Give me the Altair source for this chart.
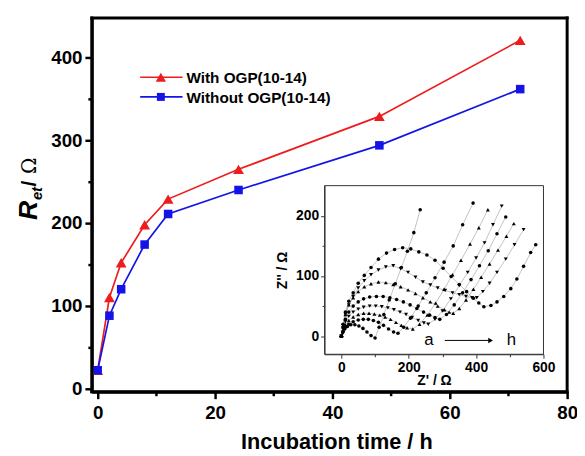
import altair as alt
import pandas as pd

# ---------------- main data ----------------
hours = [0, 2, 4, 8, 12, 24, 48, 72]
ret_with = [22, 110, 152, 198, 229, 265, 329, 421]
ret_without = [22, 88, 120, 174, 211, 240, 294, 362]
legend_labels = ["With OGP(10-14)", "Without OGP(10-14)"]

# ---------------- inset (Nyquist) data ----------------
a_x = [0, 4, 10, 18, 28, 40, 52, 64, 76, 88, 100, 112, 126, 142, 160, 178, 196, 215, 234]
a_y = [0, 6, 12, 16, 19, 19, 17, 13, 7, 1, -3, 15, 36, 60, 87, 114, 141, 172, 210]

b_x = [0, 5, 12, 22, 35, 50, 65, 80, 95, 110, 125, 140, 155, 168, 185, 205, 228, 252, 278, 305, 332, 360, 391]
b_y = [0, 8, 15, 20, 24, 27, 28, 28, 26, 23, 18, 12, 7, 5, 15, 30, 50, 72, 97, 123, 150, 185, 221]

c_x = [0, 5, 12, 22, 35, 50, 66, 82, 98, 114, 130, 146, 162, 178, 195, 212, 232, 255, 280, 305, 330, 355, 382, 408, 435]
c_y = [0, 10, 19, 26, 32, 36, 38, 38, 37, 35, 32, 28, 23, 18, 14, 12, 20, 35, 55, 78, 102, 126, 153, 180, 210]

d_x = [0, 5, 12, 22, 35, 50, 66, 84, 102, 120, 138, 156, 174, 192, 210, 228, 245, 258, 278, 300, 325, 350, 375, 400, 425, 450, 476]
d_y = [0, 12, 24, 33, 40, 45, 48, 50, 50, 49, 47, 44, 40, 36, 31, 26, 22, 20, 28, 42, 62, 84, 106, 130, 155, 185, 216]

e_x = [0, 5, 12, 22, 35, 50, 66, 84, 104, 124, 144, 164, 184, 204, 224, 244, 262, 278, 292, 312, 335, 360, 385, 410, 436, 462, 488]
e_y = [0, 14, 28, 40, 50, 57, 62, 65, 66, 66, 64, 61, 57, 52, 46, 40, 35, 31, 28, 36, 52, 72, 94, 117, 142, 170, 198]

f_x = [0, 5, 12, 22, 35, 50, 68, 88, 110, 132, 154, 176, 198, 220, 242, 264, 286, 306, 320, 332, 350, 370, 392, 415, 440, 465, 490, 512]
f_y = [0, 18, 36, 52, 64, 74, 82, 87, 90, 89, 86, 82, 77, 71, 64, 57, 50, 44, 40, 38, 46, 60, 78, 98, 120, 143, 166, 187]

g_x = [0, 5, 12, 22, 35, 50, 68, 88, 110, 132, 154, 176, 198, 220, 242, 264, 286, 308, 330, 350, 370, 388, 402, 420, 440, 462, 488, 514, 541]
g_y = [0, 18, 36, 52, 66, 80, 92, 102, 110, 115, 117, 112, 106, 98, 90, 85, 80, 76, 72, 69, 66, 64, 64, 74, 88, 106, 128, 152, 177]

h_x = [0, 5, 12, 22, 35, 50, 68, 88, 110, 134, 158, 182, 206, 230, 254, 278, 302, 326, 350, 372, 392, 408, 423, 444, 462, 482, 503, 521, 541, 562, 577]
h_y = [0, 20, 40, 58, 72, 88, 101, 114, 128, 138, 144, 147, 145, 140, 135, 126, 113, 99, 86, 74, 63, 55, 49, 51, 57, 66, 79, 95, 116, 139, 152]

curves = [
    ("a", a_x, a_y, "circle"), ("b", b_x, b_y, "circle"),
    ("c", c_x, c_y, "up"), ("d", d_x, d_y, "down"),
    ("e", e_x, e_y, "circle"), ("f", f_x, f_y, "up"),
    ("g", g_x, g_y, "down"), ("h", h_x, h_y, "circle"),
]
rows = []
for name, xs, ys, m in curves:
    for i, (xv, yv) in enumerate(zip(xs, ys)):
        rows.append({"curve": name, "idx": i, "x": xv, "y": yv, "m": m})
inset_df = pd.DataFrame(rows)

FONT = "Liberation Sans"
W, H = 482, 379
RED = "#ee1c1c"
BLUE = "#1414e6"

# ---------------- main chart ----------------
xscale = alt.Scale(domain=[-1, 80], nice=False, zero=False)
yscale = alt.Scale(domain=[-4, 448], nice=False, zero=False)

xaxis = alt.Axis(
    values=list(range(0, 81, 10)),
    labelExpr="datum.value % 20 == 0 ? datum.label : ''",
    tickSize={"condition": {"test": "datum.value % 20 == 0", "value": 7}, "value": 4},
    title="Incubation time / h", titleFontSize=22, titleFontWeight="bold",
    titlePadding=10, titleX=248, labelFontSize=19, labelFontWeight="bold", labelPadding=5,
    domainColor="black", domainWidth=3, tickColor="black", tickWidth=2.5,
    labelColor="black", titleColor="black", labelFont=FONT, titleFont=FONT,
)
yaxis = alt.Axis(
    values=list(range(0, 401, 50)),
    labelExpr="datum.value % 100 == 0 ? datum.label : ''",
    tickSize={"condition": {"test": "datum.value % 100 == 0", "value": 7}, "value": 4},
    title=None, labelFontSize=19, labelFontWeight="bold", labelPadding=3,
    domainColor="black", domainWidth=3, tickColor="black", tickWidth=2.5,
    labelColor="black", labelFont=FONT,
)

df_with = pd.DataFrame({"t": hours, "r": ret_with})
df_without = pd.DataFrame({"t": hours, "r": ret_without})


def enc_main(ch):
    return ch.encode(
        x=alt.X("t:Q", scale=xscale, axis=xaxis),
        y=alt.Y("r:Q", scale=yscale, axis=yaxis),
    )


red_line = enc_main(alt.Chart(df_with).mark_line(color=RED, strokeWidth=1.7))
red_pts = enc_main(alt.Chart(df_with).mark_point(shape="triangle-up", filled=True, size=120, color=RED, opacity=1))
blue_line = enc_main(alt.Chart(df_without).mark_line(color=BLUE, strokeWidth=1.7))
blue_pts = enc_main(alt.Chart(df_without).mark_point(shape="square", filled=True, size=75, color=BLUE, opacity=1))

one = pd.DataFrame({"k": [0]})

# thick black frame around the plot area (four edges)
frame_rules = [
    alt.Chart(one).mark_rule(color="black", strokeWidth=3, strokeCap="square").encode(
        x=alt.value(0), x2=alt.value(W), y=alt.value(0)),
    alt.Chart(one).mark_rule(color="black", strokeWidth=3, strokeCap="square").encode(
        x=alt.value(0), x2=alt.value(W), y=alt.value(H)),
    alt.Chart(one).mark_rule(color="black", strokeWidth=3, strokeCap="square").encode(
        x=alt.value(0), y=alt.value(0), y2=alt.value(H)),
    alt.Chart(one).mark_rule(color="black", strokeWidth=3, strokeCap="square").encode(
        x=alt.value(W), y=alt.value(0), y2=alt.value(H)),
]

leg = []
for i, (lab, col, shp, sz) in enumerate([(legend_labels[0], RED, "triangle-up", 110),
                                         (legend_labels[1], BLUE, "square", 65)]):
    yy = 60 + 20 * i
    leg.append(alt.Chart(one).mark_rule(color=col, strokeWidth=1.6).encode(
        x=alt.value(49), x2=alt.value(92), y=alt.value(yy)))
    leg.append(alt.Chart(one).mark_point(shape=shp, filled=True, size=sz, color=col, opacity=1).encode(
        x=alt.value(70), y=alt.value(yy)))
    leg.append(alt.Chart(one).mark_text(align="left", baseline="middle", font=FONT, fontSize=15.5,
                                        fontWeight="bold", color="black").encode(
        x=alt.value(96), y=alt.value(yy + 1), text=alt.value(lab)))

# y-axis title: R_et / Ω
ytitle = [
    alt.Chart(one).mark_text(font=FONT, fontSize=27, fontWeight="bold", fontStyle="italic",
                             angle=270, align="center", baseline="middle", color="black").encode(
        x=alt.value(-64), y=alt.value(195), text=alt.value("R")),
    alt.Chart(one).mark_text(font=FONT, fontSize=15, fontWeight="bold", fontStyle="italic",
                             angle=270, align="center", baseline="middle", color="black").encode(
        x=alt.value(-56), y=alt.value(178), text=alt.value("et")),
    alt.Chart(one).mark_text(font=FONT, fontSize=21, fontWeight="bold",
                             angle=270, align="center", baseline="middle", color="black").encode(
        x=alt.value(-63), y=alt.value(168), text=alt.value("/")),
    alt.Chart(one).mark_text(font="DejaVu Serif", fontSize=20,
                             angle=270, align="center", baseline="middle", color="black").encode(
        x=alt.value(-63), y=alt.value(150), text=alt.value("Ω")),
]

main = alt.layer(red_line, blue_line, red_pts, blue_pts, *leg, *ytitle, *frame_rules)

# ---------------- inset ----------------
ixscale = alt.Scale(domain=[-50, 600], range=[236, 458], nice=False, zero=False)
iyscale = alt.Scale(domain=[-30, 250], range=[341, 170], nice=False, zero=False)
ixaxis = alt.Axis(
    orient="bottom", offset=-38,
    values=list(range(0, 601, 100)),
    labelExpr="datum.value % 200 == 0 ? datum.label : ''",
    tickSize={"condition": {"test": "datum.value % 200 == 0", "value": 4}, "value": 2.5},
    title="Z' / Ω", titleFontSize=14, titleFontWeight="bold", titlePadding=0,
    labelFontSize=14, labelFontWeight="bold", labelPadding=2, domainWidth=1,
    domainColor="#333", tickWidth=1, tickColor="#333", labelColor="black",
    titleColor="black", labelFont=FONT, titleFont=FONT,
)
iyaxis = alt.Axis(
    orient="left", offset=-236,
    values=list(range(0, 201, 50)),
    labelExpr="datum.value % 100 == 0 ? datum.label : ''",
    tickSize={"condition": {"test": "datum.value % 100 == 0", "value": 4}, "value": 2.5},
    title="Z'' / Ω", titleFontSize=14, titleFontWeight="bold", titlePadding=6,
    labelFontSize=14, labelFontWeight="bold", labelPadding=2, domainWidth=1,
    domainColor="#333", tickWidth=1, tickColor="#333", labelColor="black",
    titleColor="black", labelFont=FONT, titleFont=FONT,
)


def enc_in(ch):
    return ch.encode(
        x=alt.X("x:Q", scale=ixscale, axis=ixaxis),
        y=alt.Y("y:Q", scale=iyscale, axis=iyaxis),
    )


frame_df = pd.DataFrame({"x": [-50], "x2": [600], "y": [-30], "y2": [250]})
frame = alt.Chart(frame_df).mark_rect(fillOpacity=0, stroke="#333", strokeWidth=1).encode(
    x=alt.X("x:Q", scale=ixscale, axis=ixaxis), x2="x2:Q",
    y=alt.Y("y:Q", scale=iyscale, axis=iyaxis), y2="y2:Q")

in_lines = enc_in(alt.Chart(inset_df).mark_line(color="#9a9a9a", strokeWidth=0.6)).encode(
    detail="curve:N", order="idx:Q")
pts_c = enc_in(alt.Chart(inset_df[inset_df.m == "circle"]).mark_point(
    shape="circle", filled=True, size=13, color="black", opacity=1))
pts_u = enc_in(alt.Chart(inset_df[inset_df.m == "up"]).mark_point(
    shape="triangle-up", filled=True, size=16, color="black", opacity=1))
pts_d = enc_in(alt.Chart(inset_df[inset_df.m == "down"]).mark_point(
    shape="triangle-down", filled=True, size=16, color="black", opacity=1))

ann_df = pd.DataFrame({"x": [260, 505], "y": [-15, -15], "t": ["a", "h"]})
ann = enc_in(alt.Chart(ann_df).mark_text(font=FONT, fontSize=17, baseline="alphabetic",
                                         align="center", color="black")).encode(text="t:N")
arrow_df = pd.DataFrame({"x": [307], "x2": [440], "y": [-7]})
arrow = alt.Chart(arrow_df).mark_rule(color="black", strokeWidth=1).encode(
    x=alt.X("x:Q", scale=ixscale, axis=ixaxis), x2="x2:Q",
    y=alt.Y("y:Q", scale=iyscale, axis=iyaxis))
head_df = pd.DataFrame({"x": [443], "y": [-7]})
head = enc_in(alt.Chart(head_df).mark_point(shape="triangle-right", filled=True, size=30,
                                           color="black", opacity=1))

inset = alt.layer(frame, in_lines, pts_c, pts_u, pts_d, ann, arrow, head)

chart = alt.layer(main, inset).resolve_scale(x="independent", y="independent").properties(
    width=W, height=H,
    background="white",
    autosize=alt.AutoSizeParams(type="none"),
    padding={"left": 85, "top": 7, "right": 10, "bottom": 62},
).configure_view(strokeWidth=0).configure_axis(
    grid=False, labelFlush=False,
)

chart.save("out.html", embed_options={"renderer": "svg", "actions": False})
